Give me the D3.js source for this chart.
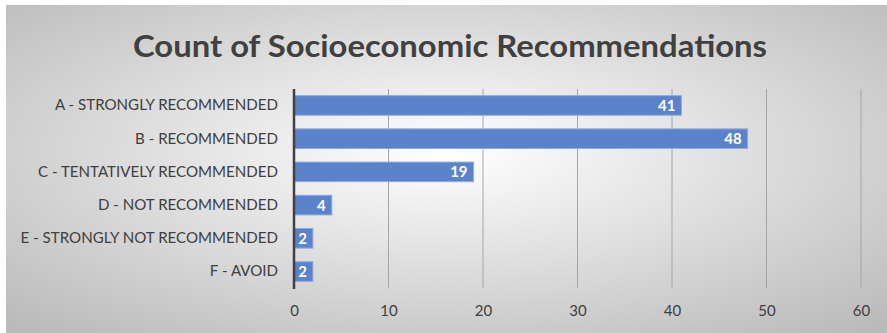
<!DOCTYPE html>
<html><head><meta charset="utf-8">
<script src="https://cdn.jsdelivr.net/npm/d3@7"></script>
<style>body{margin:0;background:#fff;}svg{display:block;}</style>
</head><body>
<svg id="c" width="887" height="333"></svg>
<script>
const categories = ["A - STRONGLY RECOMMENDED","B - RECOMMENDED","C - TENTATIVELY RECOMMENDED","D - NOT RECOMMENDED","E - STRONGLY NOT RECOMMENDED","F - AVOID"];
const counts = [41,48,19,4,2,2];
const xTicks = [0,10,20,30,40,50,60];
const title = "Count of Socioeconomic Recommendations";

const svg = d3.select("#c");
const defs = svg.append("defs");
const g = defs.append("radialGradient").attr("id","bg").attr("cx","50%").attr("cy","45%").attr("r","72%");
g.append("stop").attr("offset","0%").attr("stop-color","#ffffff");
g.append("stop").attr("offset","100%").attr("stop-color","#bababa");
svg.append("rect").attr("x",6).attr("y",5).attr("width",881).attr("height",328).attr("fill","url(#bg)");

const x = d3.scaleLinear().domain([0,60]).range([294,861]);
const y = d3.scaleBand().domain(categories).range([89,288]).paddingInner(0.41).paddingOuter(0.2);

svg.append("g").selectAll("line").data(xTicks.slice(1)).join("line")
  .attr("x1",d=>x(d)).attr("x2",d=>x(d)).attr("y1",89).attr("y2",288)
  .attr("stroke","#a6a6a6").attr("stroke-width",1);

svg.append("g").selectAll("rect").data(counts).join("rect")
  .attr("x",x(0)).attr("y",(d,i)=>y(categories[i]))
  .attr("width",d=>x(d)-x(0)).attr("height",y.bandwidth())
  .attr("fill","#5a83cb").attr("stroke","#8eaadf").attr("stroke-width",1);

svg.append("g").selectAll("text").data(counts).join("text")
  .attr("x",d=>x(d)-6).attr("y",(d,i)=>y(categories[i])+y.bandwidth()/2)
  .attr("dy","0.36em").attr("text-anchor","end")
  .attr("font-family","Lato, 'Open Sans', sans-serif").attr("font-weight","bold").attr("font-size",15)
  .attr("fill","#ffffff").text(d=>d);

svg.append("line").attr("x1",x(0)).attr("x2",x(0)).attr("y1",89).attr("y2",289)
  .attr("stroke","#404040").attr("stroke-width",2.5);

const yAxis = d3.axisLeft(y).tickSize(0).tickPadding(16);
const ya = svg.append("g").attr("transform",`translate(${x(0)},0)`).call(yAxis);
ya.select(".domain").remove();
ya.selectAll("text").attr("font-family","Lato, 'Open Sans', sans-serif").attr("font-size",15.1).attr("fill","#404040");

const xAxis = d3.axisBottom(x).tickValues(xTicks).tickSize(0).tickPadding(17);
const xa = svg.append("g").attr("transform","translate(0,288)").call(xAxis);
xa.select(".domain").remove();
xa.selectAll("text").attr("font-family","Lato, 'Open Sans', sans-serif").attr("font-size",15).attr("fill","#404040");

svg.append("text").attr("x",450).attr("y",57).attr("text-anchor","middle")
  .attr("font-family","Lato, 'Open Sans', sans-serif").attr("font-weight","bold").attr("font-size",31)
  .attr("fill","#404040").attr("textLength",634).attr("lengthAdjust","spacingAndGlyphs").text(title);
</script>
</body></html>
